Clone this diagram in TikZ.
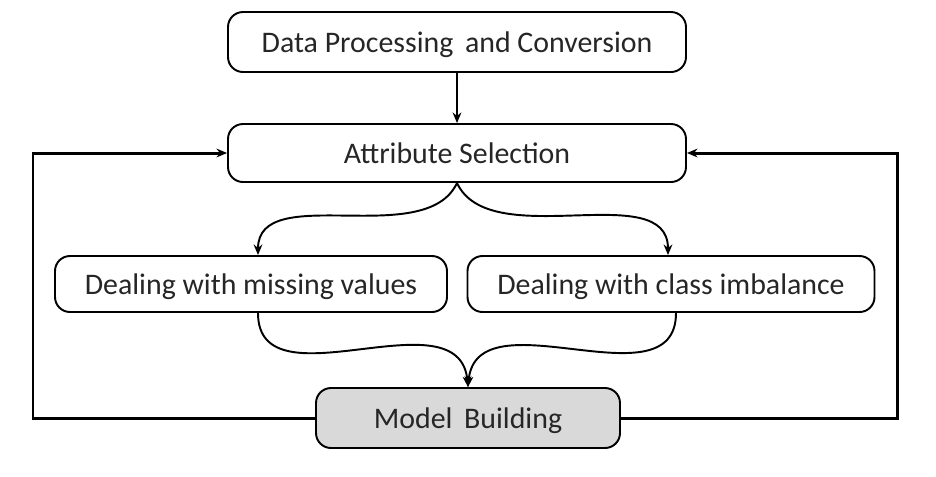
\documentclass[tikz,border=0pt]{standalone}
\usepackage{fontspec}
\setmainfont{Carlito}
\usepackage{tikz}
\usetikzlibrary{math,arrows.meta}

\tikzset{
stepbox/.style={draw,line width=1.1pt,rounded corners=0.3cm,inner sep=0pt,
  text height=12pt,text depth=0pt,
  font=\fontsize{17}{20}\selectfont,text=black!85},
flow/.style={line width=1.1pt,-{Stealth[length=6pt,width=5pt]}},
back/.style={line width=1.7pt,rounded corners=0pt,-{Stealth[length=6pt,width=5pt]}}
}

\begin{document}
\begin{tikzpicture}

\tikzmath{
\scale = 0.02;
}

\useasboundingbox (0*\scale,0*\scale) rectangle (936*\scale,-476*\scale);

\node[stepbox,minimum width=458*\scale cm,minimum height=60*\scale cm] (proc) at (457*\scale,-42*\scale) {Data Processing\, and Conversion};
\node[stepbox,minimum width=458*\scale cm,minimum height=58*\scale cm] (attr) at (457*\scale,-153*\scale) {Attribute Selection};
\node[stepbox,minimum width=392*\scale cm,minimum height=56*\scale cm] (miss) at (251*\scale,-284*\scale) {Dealing with missing values};
\node[stepbox,minimum width=407*\scale cm,minimum height=56*\scale cm] (imb) at (671*\scale,-284*\scale) {Dealing with class imbalance};
\node[stepbox,fill=black!15,minimum width=304*\scale cm,minimum height=60*\scale cm] (model) at (468*\scale,-418*\scale) {Model\, Building};

\coordinate (leftrail) at (33*\scale,-153*\scale);
\coordinate (rightrail) at (897*\scale,-153*\scale);

\draw[flow] (proc.south) -- (attr.north);

\draw[flow] (attr.south) to[out=-115,in=90,looseness=0.9] (miss.north -| 258*\scale,0);
\draw[flow] (attr.south) to[out=-65,in=90,looseness=0.9] (imb.north -| 668*\scale,0);

\draw[flow] (miss.south -| 258*\scale,0) to[out=-90,in=95,looseness=1.1] (model.north);
\draw[flow] (imb.south -| 676*\scale,0) to[out=-90,in=85,looseness=1.1] (model.north);

\draw[back] (model.west) -- (model.west -| leftrail) -- (leftrail) -- (attr.west);
\draw[back] (model.east) -- (model.east -| rightrail) -- (rightrail) -- (attr.east);

\end{tikzpicture}
\end{document}
